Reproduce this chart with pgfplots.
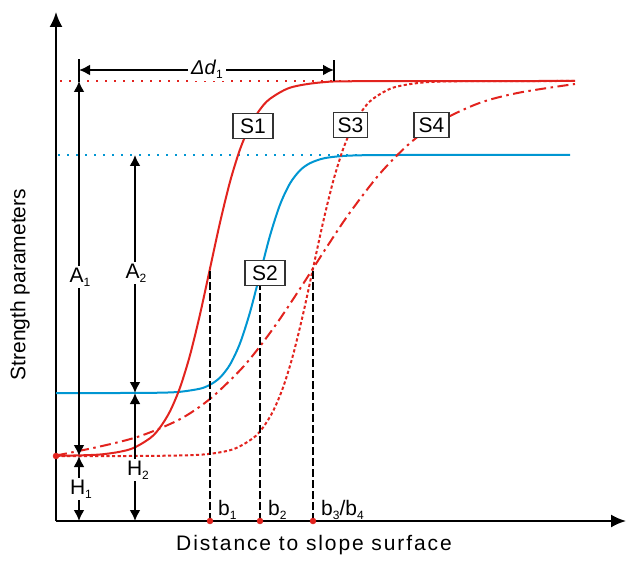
\documentclass[border=0pt]{standalone}
\usepackage{fontspec}
\setmainfont{Liberation Sans}
\newfontfamily\xlabfont[LetterSpace=9]{Liberation Sans}
\usepackage{pgfplots}
\pgfplotsset{compat=1.18}
\usetikzlibrary{arrows.meta}
\definecolor{cred}{RGB}{226,35,30}
\definecolor{cblue}{RGB}{0,150,210}
\newcommand{\sub}[1]{\raisebox{-0.4ex}{\fontsize{12}{13}\selectfont #1}}
\newcommand{\lbl}{\fontsize{21}{24}\selectfont}
\begin{document}
\begin{tikzpicture}
\begin{axis}[
  x=1pt, y=1pt, xmin=0, xmax=570, ymin=0, ymax=509,
  enlargelimits=false, clip=false,
  axis lines=left,
  axis line style={line width=1.9pt, -{Latex[length=15pt,width=13pt]}},
  xtick=\empty, ytick=\empty,
  xlabel={Distance to slope surface},
  ylabel={Strength parameters},
  every axis x label/.style={at={(rel axis cs:0.4526,-0.0472)}, anchor=center, font=\xlabfont\fontsize{21}{24}\selectfont},
  every axis y label/.style={at={(rel axis cs:-0.0632,0.4646)}, rotate=90, anchor=center, font=\lbl},
]
\path (axis cs:-56,-39) rectangle (axis cs:573,521);
% reference dotted lines
\addplot[cred, line width=2pt, dash pattern=on 2.4pt off 6.6pt] coordinates {(4,440) (519,440)};
\addplot[cblue, line width=2pt, dash pattern=on 2.4pt off 6.6pt] coordinates {(2,366) (514,366)};
% S2 blue
\addplot[cblue, line width=2pt, smooth] coordinates {
(0,128.0) (64,128.0) (104,128.3) (124,129.2) (144,132.3) (154,136.2) (164,143.4) (174,156.4) (184,177.7) (194,208.7) (204,247) (214,285.3) (224,316.3) (234,337.6) (244,350.6) (254,357.8) (269,362.9) (294,365.4) (344,366) (514,366)};
% S1 red solid
\addplot[cred, line width=2pt, smooth] coordinates {
(0,65.2) (44,66.5) (74,71.7) (94,82.8) (104,93.5) (114,109.7) (124,133.4) (134,165.8) (144,206.6) (154,252.5) (164,298.4) (174,339.2) (184,371.6) (194,395.3) (204,411.5) (214,422.2) (234,433.3) (264,438.5) (304,439.8) (519,440)};
% S3 red dotted
\addplot[cred, line width=2pt, smooth, dash pattern=on 3.2pt off 2.4pt] coordinates {
(0,65.0) (94,65.1) (147,66.5) (177,71.7) (197,82.8) (207,93.5) (217,109.7) (227,133.4) (237,165.8) (247,206.6) (257,252.5) (267,298.4) (277,339.2) (287,371.6) (297,395.3) (307,411.5) (317,422.2) (337,433.3) (367,438.5) (407,439.8) (519,440)};
% S4 red dash-dot
\addplot[cred, line width=2pt, smooth, dash pattern=on 11pt off 4.5pt on 2.5pt off 4.5pt] coordinates {
(0,65.5) (44,74.5) (84,84.9) (124,101.8) (154,122.1) (184,150.7) (204,174.7) (224,202.2) (244,232.3) (257,252.5) (274,278.9) (294,308.6) (324,347.5) (354,377.9) (384,399.7) (424,418.2) (464,428.5) (519,437)};
% b lines
\addplot[black, line width=2.1pt, dash pattern=on 8pt off 3pt] coordinates {(154,0) (154,251)};
\addplot[black, line width=2.1pt, dash pattern=on 8pt off 3pt] coordinates {(204,0) (204,238)};
\addplot[black, line width=2.1pt, dash pattern=on 8pt off 3pt] coordinates {(257,0) (257,253)};
% red dots
\addplot[cred, only marks, mark=*, mark size=3pt] coordinates {(0,65) (154,0) (204,0) (257,0)};
% annotation arrows
\tikzset{dbl/.style={line width=2pt, {Latex[length=11pt,width=11pt]}-{Latex[length=11pt,width=11pt]}}}
\draw[dbl] (axis cs:23,65) -- (axis cs:23,440);
\draw[dbl] (axis cs:23,0) -- (axis cs:23,65);
\draw[dbl] (axis cs:79,128) -- (axis cs:79,366);
\draw[dbl] (axis cs:79,0) -- (axis cs:79,128);
\draw[dbl] (axis cs:23,451) -- (axis cs:278,451);
\draw[line width=2pt] (axis cs:23,439) -- (axis cs:23,462);
\draw[line width=2pt] (axis cs:278,440) -- (axis cs:278,461);
% labels
\node[fill=white, inner sep=3pt, font=\fontsize{20}{23}\selectfont] at (axis cs:151,452) {\textit{Δd}\sub{1}};
\node[fill=white, inner sep=2pt, font=\lbl] at (axis cs:24,244) {A\sub{1}};
\node[fill=white, inner sep=2pt, font=\lbl] at (axis cs:80,248) {A\sub{2}};
\node[fill=white, inner sep=2pt, font=\lbl] at (axis cs:25,32) {H\sub{1}};
\node[fill=white, inner sep=2pt, font=\lbl] at (axis cs:82,51) {H\sub{2}};
\node[anchor=base west, inner sep=0pt, font=\lbl] at (axis cs:162,6) {b\sub{1}};
\node[anchor=base west, inner sep=0pt, font=\lbl] at (axis cs:212,6) {b\sub{2}};
\node[anchor=base west, inner sep=0pt, font=\lbl] at (axis cs:265,6) {b\sub{3}/b\sub{4}};
\tikzset{box/.style={draw=black!80, line width=1.1pt, fill=white, minimum height=25pt, inner sep=1pt, font=\lbl}}
\node[box, minimum width=40pt] at (axis cs:197,395) {S1};
\node[box, minimum width=40pt] at (axis cs:209,248) {S2};
\node[box, minimum width=34pt] at (axis cs:294.5,396) {S3};
\node[box, minimum width=35pt] at (axis cs:375.5,396) {S4};
\end{axis}
\end{tikzpicture}
\end{document}
